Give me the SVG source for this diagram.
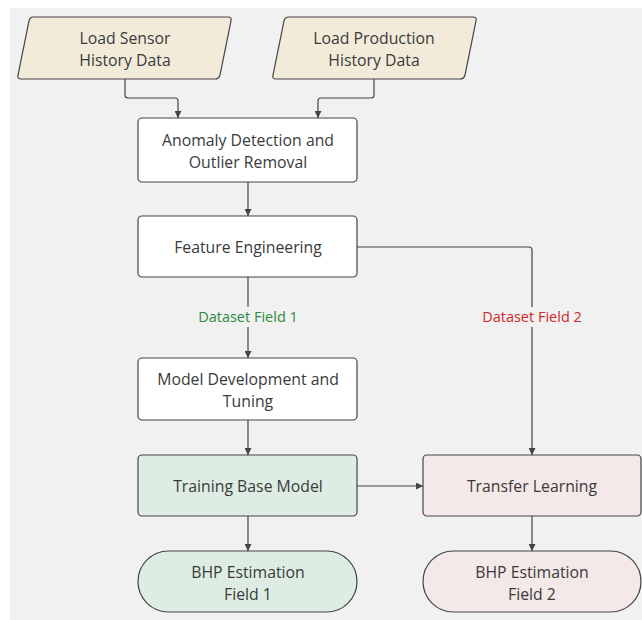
<svg xmlns="http://www.w3.org/2000/svg" width="642" height="620" viewBox="0 0 642 620">
<defs>
<marker id="arr" viewBox="0 0 10 10" refX="10" refY="5" markerWidth="7" markerHeight="7" markerUnits="userSpaceOnUse" orient="auto">
<path d="M0,0 L10,5 L0,10 z" fill="#444"/>
</marker>
<style>
.n{stroke:#444;stroke-width:1.2}
.w{fill:#ffffff}
.y{fill:#f2ebda}
.g{fill:#deede3}
.p{fill:#f4e8e8}
.t{font-family:"Open Sans","Noto Sans","Liberation Sans",sans-serif;font-size:15.8px;fill:#3a3a3a;text-anchor:middle}
.c{fill:none;stroke:#444;stroke-width:1.2;marker-end:url(#arr)}
.l{font-family:"Open Sans","Noto Sans","Liberation Sans",sans-serif;font-size:14.5px;text-anchor:middle}
</style>
</defs>
<rect x="0" y="0" width="642" height="620" fill="#ffffff"/>
<rect x="10" y="8" width="632" height="612" fill="#f1f1f1"/>
<g id="connectors">
<path class="c" d="M125,79 V95 Q125,98 128,98 H175 Q178,98 178,101 V118"/>
<path class="c" d="M374,79 V95 Q374,98 371,98 H321 Q318,98 318,101 V118"/>
<path class="c" d="M248,182 V216"/>
<path class="c" d="M248,277 V358"/>
<path class="c" d="M357,247 H529 Q532,247 532,250 V455"/>
<path class="c" d="M248,420 V455"/>
<path class="c" d="M357,486 H423"/>
<path class="c" d="M248,516 V551"/>
<path class="c" d="M532,516 V551"/>
<rect x="190" y="307" width="116" height="20" fill="#f1f1f1"/>
<rect x="474" y="307" width="116" height="20" fill="#f1f1f1"/>
<text class="l" x="248" y="322" fill="#2e8b3f">Dataset Field 1</text>
<text class="l" x="532" y="322" fill="#cc2a2a">Dataset Field 2</text>
</g>
<g id="n1">
<path class="n y" d="M33,17 H228 Q232,17 231,21 L220,75 Q219,79 215,79 H21 Q17,79 18,75 L29,21 Q30,17 33,17 z"/>
<text class="t" x="125" y="44">Load Sensor</text>
<text class="t" x="125" y="66">History Data</text>
</g>
<g id="n2">
<path class="n y" d="M289,17 H473 Q477,17 476,21 L465,75 Q464,79 460,79 H276 Q272,79 273,75 L284,21 Q285,17 289,17 z"/>
<text class="t" x="374" y="44">Load Production</text>
<text class="t" x="374" y="66">History Data</text>
</g>
<g id="n3">
<rect class="n w" x="138" y="118" width="219" height="64" rx="4"/>
<text class="t" x="248" y="146">Anomaly Detection and</text>
<text class="t" x="248" y="168">Outlier Removal</text>
</g>
<g id="n4">
<rect class="n w" x="138" y="216" width="219" height="61" rx="4"/>
<text class="t" x="248" y="253">Feature Engineering</text>
</g>
<g id="n5">
<rect class="n w" x="138" y="358" width="219" height="62" rx="4"/>
<text class="t" x="248" y="385">Model Development and</text>
<text class="t" x="248" y="407">Tuning</text>
</g>
<g id="n6">
<rect class="n g" x="138" y="455" width="219" height="61" rx="4"/>
<text class="t" x="248" y="492">Training Base Model</text>
</g>
<g id="n7">
<rect class="n p" x="423" y="455" width="218" height="61" rx="4"/>
<text class="t" x="532" y="492">Transfer Learning</text>
</g>
<g id="n8">
<rect class="n g" x="138" y="551" width="219" height="61" rx="30.5"/>
<text class="t" x="248" y="578">BHP Estimation</text>
<text class="t" x="248" y="600">Field 1</text>
</g>
<g id="n9">
<rect class="n p" x="423" y="551" width="218" height="61" rx="30.5"/>
<text class="t" x="532" y="578">BHP Estimation</text>
<text class="t" x="532" y="600">Field 2</text>
</g>
</svg>
